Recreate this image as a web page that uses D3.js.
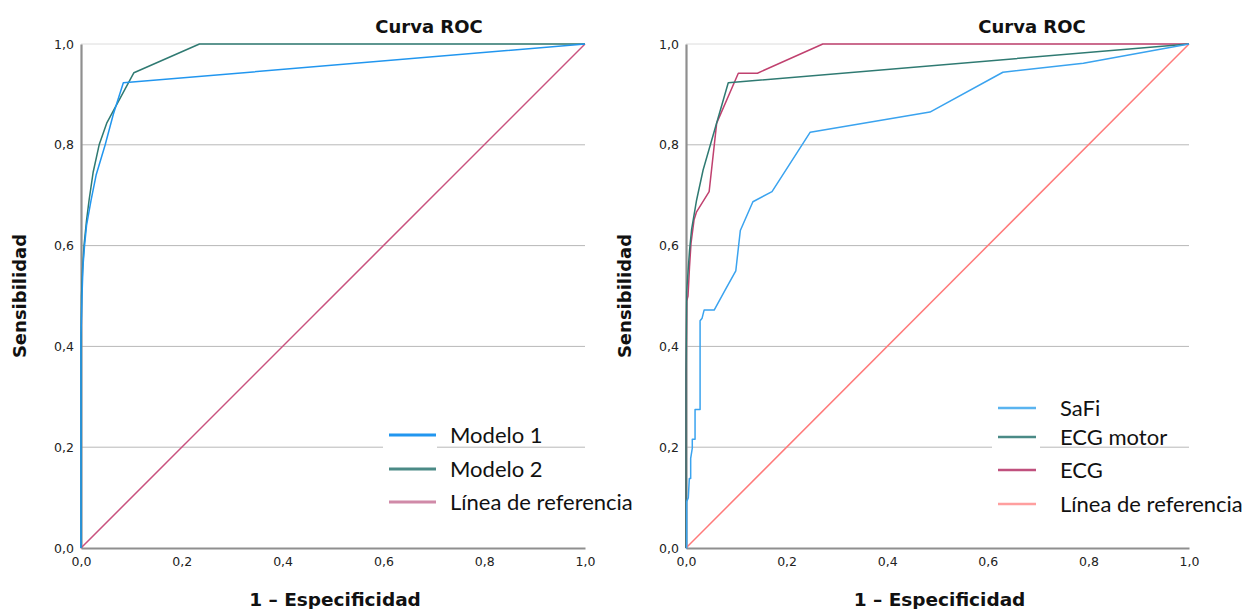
<!DOCTYPE html>
<html><head><meta charset="utf-8">
<script src="https://cdn.jsdelivr.net/npm/d3@7"></script>
<style>
body{margin:0;background:#fff;}
svg{display:block;}
</style></head>
<body>
<svg id="chart" width="1248" height="609"></svg>
<script>
// ---- data ----
const title = "Curva ROC";
const xLabel = "1 – Especificidad";
const yLabel = "Sensibilidad";
const tickValues = [0, 0.2, 0.4, 0.6, 0.8, 1.0];
const tickLabels = ["0,0", "0,2", "0,4", "0,6", "0,8", "1,0"];

// Left chart
const leftNames = ["Modelo 1", "Modelo 2", "Línea de referencia"];
const modelo1 = [[0,0],[0,0.42],[0.002,0.50],[0.004,0.56],[0.007,0.60],[0.011,0.64],[0.020,0.69],[0.030,0.74],[0.048,0.80],[0.064,0.86],[0.084,0.923],[1,1]];
const modelo2 = [[0,0],[0,0.40],[0.001,0.50],[0.003,0.55],[0.006,0.60],[0.011,0.65],[0.016,0.69],[0.024,0.745],[0.036,0.80],[0.051,0.843],[0.105,0.943],[0.235,1],[1,1]];
const refLeft = [[0,0],[1,1]];

// Right chart
const rightNames = ["SaFi", "ECG motor", "ECG", "Línea de referencia"];
const safi = [[0,0],[0.0014,0],[0.0014,0.092],[0.0046,0.10],[0.0066,0.138],[0.0093,0.138],[0.0093,0.178],[0.0125,0.198],[0.0125,0.216],[0.018,0.216],[0.018,0.275],[0.028,0.275],[0.028,0.451],[0.032,0.456],[0.036,0.472],[0.056,0.472],[0.078,0.512],[0.099,0.550],[0.108,0.630],[0.133,0.687],[0.171,0.707],[0.247,0.825],[0.485,0.865],[0.630,0.944],[0.790,0.962],[1,1]];
const ecgMotor = [[0,0],[0,0.35],[0.0014,0.51],[0.007,0.59],[0.011,0.631],[0.021,0.69],[0.034,0.75],[0.084,0.923],[1,1]];
const ecg = [[0,0],[0,0.30],[0.0014,0.49],[0.004,0.50],[0.007,0.558],[0.010,0.605],[0.016,0.651],[0.021,0.667],[0.046,0.707],[0.061,0.843],[0.104,0.942],[0.142,0.942],[0.272,1],[1,1]];
const refRight = [[0,0],[1,1]];

// ---- styles ----
const panels = [
  {x0:81, x1:585, tcx:429, series:[modelo1, modelo2, refLeft], names:leftNames,
   colors:["#2196ef","#2f7a72","#c9527f"], legColors:["#2196ef","#4a8a86","#d08aa8"],
   leg:{symX0:389, symX1:436, rows:[435,469,502], textX:450, bgX0:383, bgX1:437, bgY0:424, bgY1:512, sw:3}},
  {x0:686, x1:1189, tcx:1032, series:[safi, ecgMotor, ecg, refRight], names:rightNames,
   colors:["#3aa3ef","#2f7a72","#c0416f","#ff7a7a"], legColors:["#5ab4f0","#4a8a86","#c0507e","#ff9f9f"],
   leg:{symX0:998, symX1:1036, rows:[408,437,470,504], textX:1060, bgX0:992, bgX1:1040, bgY0:396, bgY1:514, sw:2.5}}
];
const yTop = 44, yBot = 548;

const svg = d3.select("#chart");

panels.forEach((p, pi) => {
  const x = d3.scaleLinear().domain([0,1]).range([p.x0, p.x1]);
  const y = d3.scaleLinear().domain([0,1]).range([yBot, yTop]);
  const g = svg.append("g");

  // gridlines
  g.selectAll("line.grid").data(tickValues.slice(1)).join("line")
    .attr("x1", p.x0).attr("x2", p.x1)
    .attr("y1", d => y(d)).attr("y2", d => y(d))
    .attr("stroke", d => d === 1 ? "#dcdcdc" : "#b8b8b8").attr("stroke-width", 1);

  // legend background (covers grid under symbols)
  g.append("rect").attr("x", p.leg.bgX0).attr("y", p.leg.bgY0)
    .attr("width", p.leg.bgX1 - p.leg.bgX0).attr("height", p.leg.bgY1 - p.leg.bgY0)
    .attr("fill", "#fff");

  // axes
  const xAxis = d3.axisBottom(x).tickValues(tickValues)
    .tickFormat((d,i) => tickLabels[i]).tickSize(0).tickPadding(9);
  const yAxis = d3.axisLeft(y).tickValues(tickValues)
    .tickFormat((d,i) => tickLabels[i]).tickSize(0).tickPadding(7);
  const gx = g.append("g").attr("transform", `translate(0,${yBot})`).call(xAxis);
  const gy = g.append("g").attr("transform", `translate(${p.x0},0)`).call(yAxis);
  [gx, gy].forEach(a => {
    a.select(".domain").attr("stroke", "#8f8f8f").attr("stroke-width", 2.2);
    a.selectAll("text").attr("font-family", "DejaVu Sans").attr("font-size", 12.5).attr("fill", "#222");
  });

  // lines
  const line = d3.line().x(d => x(d[0])).y(d => y(d[1]));
  const order = p.series.map((s,i)=>i).reverse();
  order.forEach(i => {
    g.append("path").datum(p.series[i]).attr("d", line)
      .attr("fill", "none").attr("stroke", p.colors[i]).attr("stroke-width", 1.5)
      .attr("stroke-linejoin", "round");
  });

  // title
  g.append("text").attr("x", p.tcx).attr("y", 33).attr("text-anchor", "middle")
    .attr("font-family", "DejaVu Sans").attr("font-weight", "bold").attr("font-size", 18)
    .attr("fill", "#111").text(title);
  // x label
  g.append("text").attr("x", (p.x0 + p.x1) / 2 + 2).attr("y", 606).attr("text-anchor", "middle")
    .attr("font-family", "DejaVu Sans").attr("font-weight", "bold").attr("font-size", 18.5)
    .attr("fill", "#111").text(xLabel);
  // y label
  g.append("text").attr("transform", `translate(${p.x0 - 55},296) rotate(-90)`).attr("text-anchor", "middle")
    .attr("font-family", "DejaVu Sans").attr("font-weight", "bold").attr("font-size", 18)
    .attr("fill", "#111").text(yLabel);

  // legend
  p.names.forEach((n, i) => {
    g.append("line").attr("x1", p.leg.symX0).attr("x2", p.leg.symX1)
      .attr("y1", p.leg.rows[i]).attr("y2", p.leg.rows[i])
      .attr("stroke", p.legColors[i]).attr("stroke-width", p.leg.sw);
    g.append("text").attr("x", p.leg.textX).attr("y", p.leg.rows[i] + 8)
      .attr("font-family", "Lato").attr("font-size", 22).attr("fill", "#111").text(n);
  });
});
</script>
</body></html>
